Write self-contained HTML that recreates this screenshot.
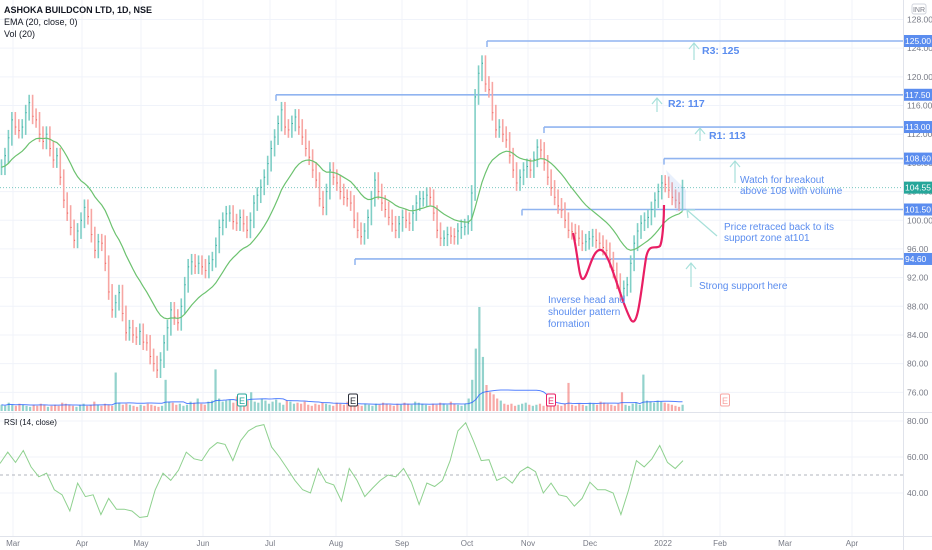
<!DOCTYPE html>
<html><head><meta charset="utf-8"><style>
body{margin:0;background:#fff;font-family:"Liberation Sans",sans-serif;}
svg{display:block}
</style></head><body>
<svg id="c" width="932" height="550" xmlns="http://www.w3.org/2000/svg" font-family="Liberation Sans, sans-serif">
</svg>
<script>
const closes=[107.4,109,111.5,114,113,112.5,113,115,116.4,114.5,114,112,111,112,110,108.4,109,106,102.8,101,99,97.2,98.5,100,101.8,100.5,98,95.8,97,96.8,94,90,87.5,88.5,89.9,87,84.3,85,84,83.7,84.5,83,82.9,81,80,79.1,80.5,82.9,85,87.5,86.5,85.7,88,91,93.5,94.2,93.6,94,93.5,93,94,94.5,96.5,99,100,100.9,101,99.8,99.6,100.4,99.5,98.6,100,102.4,103.5,104.6,106,107.9,110,111.6,113.5,115.4,113,112.6,113.5,114.4,113,111.6,110,108.8,107,105.6,103,101.8,104,107,106,105.2,104,103.2,103,102.4,100,98.6,97.7,98.5,100.4,103,105.6,104,102.4,101.5,100.4,99.5,98.6,99.5,100.4,100,99.6,101,102.4,103,103,103.5,103.2,101,98.6,97.5,97.5,98,97.8,97.7,98.5,99,99.1,99.6,103.8,117.2,120.5,121.9,119,118.2,115,112.6,113,112,111.2,109,107,105.2,106,107,107.5,107,108.5,110.2,109.8,108,106,104.5,103.2,102,101.4,100,98.6,98.4,98.2,97.5,96.8,97,97.4,97.7,97.2,96.8,96.2,95.8,94.5,93,91.5,89.9,90.5,91,94,96.8,98.5,99.6,100,100.4,101.5,102.8,104,105.2,105,104.2,103.2,102.8,102.4,104.55];
const volumes=[6,5,8,6,5,7,6,5,4,6,5,7,6,4,5,6,5,8,7,6,5,4,6,7,5,6,9,6,5,7,6,5,37,8,6,7,6,5,4,6,5,7,6,5,4,5,30,9,8,6,7,5,6,9,8,12,7,6,9,10,40,12,9,10,11,8,14,9,12,10,18,9,8,12,10,7,9,11,8,6,10,9,7,8,7,9,6,5,7,6,8,7,6,5,8,7,6,9,8,7,6,5,7,6,5,7,6,8,7,6,5,7,6,8,7,6,9,8,7,6,5,7,6,8,7,6,9,7,6,5,7,12,30,60,100,52,25,18,16,12,10,7,6,7,5,6,7,8,6,5,6,7,5,8,6,7,6,5,7,27,6,5,7,6,5,8,7,6,9,8,7,6,5,7,18,6,5,7,8,6,35,10,9,8,10,9,8,7,6,5,4,6];
const rsiValues=[56.4,62.7,57,63.6,54.5,49,51,41.8,39,30,45.5,38,39,28,37,31,31,30,26.4,27,41.8,51,47,52.7,62.7,59,58,64.5,68,67,58,69,74.5,77,78,65.5,60,53.6,47,41.8,40,53.6,46,44.5,35.5,53.6,47,38,42.7,47,50,49,53.6,46,33.6,45.5,43.6,47,58,74.5,79,69,58,58.5,47,49,45.5,51.8,54.5,51.8,40,45.5,39,38,32.7,37,46,41.8,41.8,40,28,41.8,58,54.5,59,66.4,57,53.6,58];
const priceTicks=[128,124,120,116,112,108,104,100,96,92,88,84,80,76];
const levels=[125,117.5,113,108.6,101.5,94.6];
const levelStart=[487,276,544,664,522,355];
const lastPrice=104.55;
const rsiTicks=[80,60,40];
const months=["Mar","Apr","May","Jun","Jul","Aug","Sep","Oct","Nov","Dec","2022","Feb","Mar","Apr"];
const monthX=[13,82,141,203,270,336,402,467,528,590,663,720,785,852];

const svg=document.getElementById('c');
const NS='http://www.w3.org/2000/svg';
function el(t,a,p){const e=document.createElementNS(NS,t);for(const k in a)e.setAttribute(k,a[k]);(p||svg).appendChild(e);return e;}
const py=p=>41+(125-p)*7.17;
const N=closes.length;
const L=volumes.length;
const bx=i=>1.5+i*(681/(N-1));
const vx=i=>1.5+i*(681/(L-1));
const rx=i=>i*(683/(rsiValues.length-1));
const ry=r=>421+(80-r)*1.8;
const PW=903;

const grid=el('g',{});

monthX.forEach(x=>{el('line',{x1:x,x2:x,y1:0,y2:536,stroke:'#f0f3fa','stroke-width':1},grid);});
priceTicks.forEach(p=>{el('line',{x1:0,x2:PW,y1:py(p),y2:py(p),stroke:'#f0f3fa'},grid);});
rsiTicks.forEach(r=>{el('line',{x1:0,x2:PW,y1:ry(r),y2:ry(r),stroke:'#f0f3fa'},grid);});
el('line',{x1:0,x2:932,y1:412.5,y2:412.5,stroke:'#e0e3eb'});
el('line',{x1:0,x2:932,y1:536.5,y2:536.5,stroke:'#e0e3eb'});
el('line',{x1:903.5,x2:903.5,y1:0,y2:550,stroke:'#e0e3eb'});

const vg=el('g',{});

const vmax=Math.max(...volumes);
volumes.forEach((v,i)=>{const j=Math.max(1,Math.round(i*(N-1)/(L-1)));const up=closes[j]>=closes[j-1];
const h=v/vmax*104;const r=el('rect',{x:vx(i)-1,y:411-h,width:2.2,height:h,fill:up?'rgba(38,166,154,0.5)':'rgba(239,83,80,0.5)'},vg);
});
let vma=[];volumes.forEach((v,i)=>{const s=volumes.slice(Math.max(0,i-19),i+1);vma.push(s.reduce((a,b)=>a+b,0)/s.length);});
const vl=el('polyline',{points:vma.map((v,i)=>vx(i)+','+(411-v/vmax*104)).join(' '),fill:'none',stroke:'#2962ff','stroke-width':1,opacity:0.8});


const cl=el('line',{x1:0,x2:PW,y1:py(lastPrice),y2:py(lastPrice),stroke:'#26a69a','stroke-dasharray':'1 2','stroke-width':1,opacity:0.6});


levels.forEach((l,i)=>{const ln=el('line',{x1:levelStart[i],x2:PW,y1:py(l),y2:py(l),stroke:'#90b4f0','stroke-width':1.6});

el('line',{x1:levelStart[i],x2:levelStart[i],y1:py(l),y2:py(l)+6,stroke:'#90b4f0','stroke-width':1.5});});

const bg=el('g',{});

closes.forEach((c,i)=>{const o=i?closes[i-1]:c;const up=c>=o;const col=up?'#80cfc6':'#f7a6a3';
const hi=Math.max(o,c)+1.1,lo=Math.min(o,c)-1.1;const x=bx(i);
const g=el('g',{},bg);
el('line',{x1:x,x2:x,y1:py(hi),y2:py(lo),stroke:col,'stroke-width':1.6},g);
el('line',{x1:x,x2:x+1,y1:py(c),y2:py(c),stroke:up?'#26a69a':'#ef5350','stroke-width':1},g);});

let ema=[];const k=2/21;closes.forEach((c,i)=>ema.push(i?c*k+ema[i-1]*(1-k):c));
const el2=el('polyline',{points:ema.map((v,i)=>bx(i)+','+py(v)).join(' '),fill:'none',stroke:'#6cc26f','stroke-width':1.2});


const pc=el('path',{d:'M573,233 C578,255 579,280 583,279 C588,278 592,248 601,250 C610,252 620,300 631,320 C638,330 641,290 646,258 C649,242 655,250 660,246 C663,240 664,215 664,205',fill:'none',stroke:'#e91e63','stroke-width':2.2});


el('polygon',{points:'666,170 686,190 686,210 676,212',fill:'rgba(144,180,240,0.2)'});

function arrow(x,y1,y2,name){const g=el('g',{stroke:'#a7e0da','stroke-width':1.2,fill:'none'});
el('line',{x1:x,x2:x,y1:y1,y2:y2},g);el('polyline',{points:(x-5)+','+(y2+6)+' '+x+','+y2+' '+(x+5)+','+(y2+6)},g);}
arrow(694,60,43,'r3-arrow');arrow(657,112,98,'r2-arrow');arrow(700,141,128,'r1-arrow');arrow(735,183,161,'breakout-arrow');arrow(691,287,263,'support-arrow');
const ra=el('g',{stroke:'#a7e0da','stroke-width':1.2,fill:'none'});
el('line',{x1:717,y1:236,x2:687,y2:210},ra);el('polyline',{points:'688,218 687,210 695,210'},ra);
function txt(x,y,s,o,name){const t=el('text',Object.assign({x:x,y:y,'font-size':10,fill:'#5b8def'},o||{}));t.textContent=s;return t;}
txt(702,54,'R3: 125',{'font-weight':'bold','font-size':10.5},'r3-label');
txt(668,107,'R2: 117',{'font-weight':'bold','font-size':10.5},'r2-label');
txt(709,139,'R1: 113',{'font-weight':'bold','font-size':10.5},'r1-label');
txt(740,183,'Watch for breakout',{},'breakout-note');txt(740,194,'above 108 with volume',{},'breakout-note-2');
txt(724,230,'Price retraced back to its',{},'retrace-note');txt(724,241,'support zone at101',{},'retrace-note-2');
txt(699,289,'Strong support here',{},'support-note');
txt(548,303,'Inverse head and',{},'pattern-note');txt(548,315,'shoulder pattern',{},'pattern-note-2');txt(548,327,'formation',{},'pattern-note-3');

[[242,'#26a69a'],[353,'#2a2e39'],[551,'#e91e63'],[725,'#f7a6a3']].forEach((b,i)=>{const g=el('g',{});
el('rect',{x:b[0]-4.5,y:394,width:9,height:12,rx:1.5,fill:'#fff',stroke:b[1],'stroke-width':1},g);
const t=el('text',{x:b[0],y:404,'font-size':9,'text-anchor':'middle',fill:b[1]},g);t.textContent='E';});

el('line',{x1:0,x2:PW,y1:ry(50),y2:ry(50),stroke:'#b2b5be','stroke-dasharray':'3 3'});
const rl=el('polyline',{points:rsiValues.map((r,i)=>rx(i)+','+ry(r)).join(' '),fill:'none',stroke:'#8fd18f','stroke-width':1});


priceTicks.forEach(p=>{const t=el('text',{x:907,y:py(p)+3,'font-size':8.5,fill:'#787b86'});t.textContent=p.toFixed(2);});
rsiTicks.forEach(r=>{const t=el('text',{x:907,y:ry(r)+3,'font-size':8.5,fill:'#787b86'});t.textContent=r.toFixed(2);});
levels.forEach(l=>{const g=el('g',{});
el('rect',{x:904,y:py(l)-6,width:28,height:12,fill:'#5b8def'},g);const t=el('text',{x:905,y:py(l)+3,'font-size':8.5,fill:'#fff'},g);t.textContent=l.toFixed(2);});
{const g=el('g',{});
el('rect',{x:904,y:py(lastPrice)-6,width:28,height:12,fill:'#26a69a'},g);const t=el('text',{x:905,y:py(lastPrice)+3,'font-size':8.5,fill:'#fff'},g);t.textContent=lastPrice.toFixed(2);}
{const g=el('g',{});
el('rect',{x:912,y:4,width:14,height:10,rx:2,fill:'#fff',stroke:'#d1d4dc'},g);const t=el('text',{x:919,y:12,'font-size':7,'text-anchor':'middle',fill:'#787b86'},g);t.textContent='INR';}
months.forEach((m,i)=>{const t=el('text',{x:monthX[i],y:546,'font-size':8,'text-anchor':'middle',fill:'#787b86'});t.textContent=m;});

txt(4,13,'ASHOKA BUILDCON LTD, 1D, NSE',{fill:'#131722','font-size':9,'font-weight':'bold'},'symbol-title');
txt(4,25,'EMA (20, close, 0)',{fill:'#131722','font-size':9},'ema-legend');
txt(4,37,'Vol (20)',{fill:'#131722','font-size':9},'volume-legend');
txt(4,425,'RSI (14, close)',{fill:'#131722','font-size':8},'rsi-legend');
</script>
</body></html>
